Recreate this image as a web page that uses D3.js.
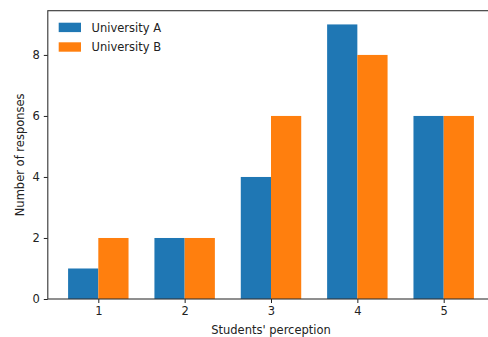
<!DOCTYPE html>
<html><head><meta charset="utf-8">
<script src="https://cdn.jsdelivr.net/npm/d3@7"></script>
<style>body{margin:0;background:#fff}svg{display:block}</style>
</head><body>
<script>
const categories = [1, 2, 3, 4, 5];
const uniA = [1, 2, 4, 9, 6];
const uniB = [2, 2, 6, 8, 6];
const seriesNames = ["University A", "University B"];
const yTicks = [0, 2, 4, 6, 8];
const colors = ["#1f77b4", "#ff7f0e"];
const barW = 0.35;

(function () {
const W = 488, H = 337;
const mLeft = 47.8, mRight = 494.2, mTop = 10.7, mBottom = 299;
const svg = d3.select("body").append("svg").attr("width", W).attr("height", H);
const font = "DejaVu Sans, sans-serif";
const fs = 11.5;

const xmin = 1 - barW, xmax = 5 + barW, pad = (xmax - xmin) * 0.05;
const x = d3.scaleLinear().domain([xmin - pad, xmax + pad]).range([mLeft, mRight]);
const y = d3.scaleLinear().domain([0, 9 * 1.05]).range([mBottom, mTop]);

const series = [uniA, uniB];
series.forEach((vals, si) => {
  svg.append("g").selectAll("rect").data(categories).join("rect")
    .attr("x", (d) => x(d + (si === 0 ? -barW : 0)))
    .attr("width", x(barW) - x(0))
    .attr("y", (d, i) => y(vals[i]))
    .attr("height", (d, i) => y(0) - y(vals[i]))
    .attr("fill", colors[si]);
});

const xAxis = d3.axisBottom(x).tickValues(categories).tickSize(4).tickPadding(4).tickFormat(d3.format("d"));
const gx = svg.append("g").attr("transform", `translate(0,${mBottom})`).call(xAxis);
const yAxis = d3.axisLeft(y).tickValues(yTicks).tickSize(4).tickPadding(4).tickFormat(d3.format("d"));
const gy = svg.append("g").attr("transform", `translate(${mLeft},0)`).call(yAxis);
[gx, gy].forEach(g => {
  g.select(".domain").remove();
  g.selectAll(".tick line").attr("stroke", "#222").attr("stroke-width", 1);
  g.selectAll(".tick text").attr("font-family", font).attr("font-size", fs).attr("fill", "#222");
});

svg.append("rect").attr("x", mLeft).attr("y", mTop).attr("width", mRight - mLeft).attr("height", mBottom - mTop)
  .attr("fill", "none").attr("stroke", "#333").attr("stroke-width", 1.1);

svg.append("text").attr("x", (mLeft + mRight) / 2).attr("y", 334).attr("text-anchor", "middle")
  .attr("font-family", font).attr("font-size", fs).attr("fill", "#222").text("Students' perception");
svg.append("text").attr("transform", `translate(24,${(mTop + mBottom) / 2}) rotate(-90)`).attr("text-anchor", "middle")
  .attr("font-family", font).attr("font-size", fs).attr("fill", "#222").text("Number of responses");

const lg = svg.append("g");
seriesNames.forEach((name, i) => {
  const yy = 22.7 + i * 19.6;
  lg.append("rect").attr("x", 58.7).attr("y", yy).attr("width", 22.3).attr("height", 9.4).attr("fill", colors[i]);
  lg.append("text").attr("x", 91.5).attr("y", yy + 9).attr("font-family", font).attr("font-size", fs)
    .attr("fill", "#222").text(name);
});
})();
</script>
</body></html>
